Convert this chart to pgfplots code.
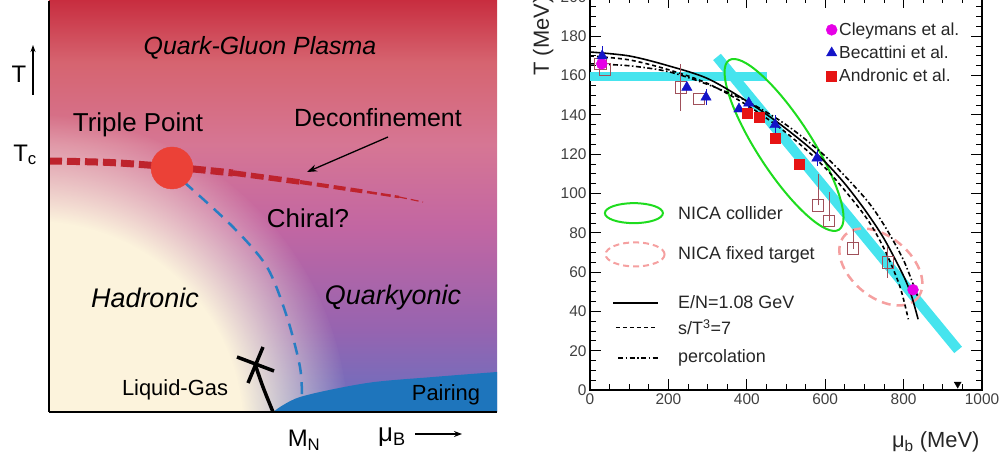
\documentclass[border=0pt]{standalone}
\usepackage{fontspec}
\setmainfont{Liberation Sans}
\usepackage{pgfplots}
\pgfplotsset{compat=1.18}
\usetikzlibrary{fadings,arrows.meta,calc}

\definecolor{bg0}{RGB}{104,112,192}
\definecolor{bg1}{RGB}{150,100,176}
\definecolor{bg2}{RGB}{194,102,162}
\definecolor{bg3}{RGB}{214,118,148}
\definecolor{bg4}{RGB}{214,100,112}
\definecolor{bg5}{RGB}{200,46,64}
\definecolor{cream}{RGB}{252,243,220}
\definecolor{pairblue}{RGB}{30,117,188}
\definecolor{decred}{RGB}{190,35,45}
\definecolor{tpred}{RGB}{235,65,55}
\definecolor{chiralblue}{RGB}{40,125,195}
\definecolor{cyanband}{RGB}{70,228,238}
\definecolor{nicagreen}{RGB}{30,220,30}
\definecolor{nicapink}{RGB}{245,160,160}
\definecolor{opensq}{RGB}{160,80,90}
\definecolor{cleym}{RGB}{230,0,230}
\definecolor{becat}{RGB}{20,20,200}
\definecolor{andro}{RGB}{230,20,20}

\pgfdeclareverticalshading{bgsh}{100bp}{color(0bp)=(bg0); color(25bp)=(bg0); color(35bp)=(bg1); color(47.5bp)=(bg2); color(57.5bp)=(bg3); color(67.5bp)=(bg4); color(75bp)=(bg5); color(100bp)=(bg5)}
\pgfdeclareradialshading{hadsh}{\pgfpointorigin}{color(0bp)=(white); color(16.5bp)=(white); color(25bp)=(black); color(50bp)=(black)}
\pgfdeclarefading{hadfade}{\pgfuseshading{hadsh}}

\begin{document}
\begin{tikzpicture}
% ---------------- left panel: schematic phase diagram ----------------
\begin{axis}[
  at={(49bp,51bp)}, anchor=south west, scale only axis,
  width=448bp, height=411bp,
  xmin=0, xmax=448, ymin=0, ymax=411,
  axis lines=left, axis line style={-, line width=2bp},
  xtick=\empty, ytick=\empty, clip=false, axis on top,
]
\begin{scope}
\clip (axis cs:0,0) rectangle (axis cs:448,411);
\shade[shading=bgsh] (axis cs:0,0) rectangle (axis cs:448,411);
\fill[cream, path fading=hadfade] (axis cs:-15,-18) circle[radius=315bp];
\end{scope}
\addplot[draw=none, fill=pairblue, smooth] coordinates {(224,0) (251,15) (318,29) (384,35) (448,40)} \closedcycle;
% deconfinement line (tapering)
\addplot[decred, line width=7bp, dash pattern=on 13bp off 5bp, smooth] coordinates {(0,251) (61,249.5) (123,245) (184,239)};
\addplot[decred, line width=5.5bp, dash pattern=on 13bp off 5bp, smooth] coordinates {(184,239) (251,230)};
\addplot[decred, line width=4bp, dash pattern=on 12bp off 5bp, smooth] coordinates {(251,230) (318,220)};
\addplot[decred, line width=2.5bp, dash pattern=on 10bp off 4bp, smooth] coordinates {(318,220) (350,215)};
\addplot[decred, line width=1.2bp, dash pattern=on 8bp off 4bp, smooth] coordinates {(350,215) (374,210)};
% chiral line
\addplot[chiralblue, line width=2.5bp, dash pattern=on 12bp off 8bp, smooth] coordinates {(135,230) (184,185) (218,145) (238,95) (251,45) (253,14)};
% triple point
\addplot[tpred, only marks, mark=*, mark size=21bp] coordinates {(123,244)};
% liquid-gas
\addplot[black, line width=3.5bp, smooth] coordinates {(224,0) (214,25) (206,48)};
\addplot[black, line width=3.5bp] coordinates {(188,55) (225,41)};
\addplot[black, line width=3.5bp] coordinates {(214,65) (199,29)};
% texts
\node[font=\fontsize{25}{30}\selectfont\itshape] at (axis cs:211,364) {Quark-Gluon Plasma};
\node[font=\fontsize{26}{30}\selectfont] at (axis cs:89,287) {Triple Point};
\node[font=\fontsize{25}{30}\selectfont] at (axis cs:329,294) {Deconfinement};
\draw[-{Stealth[length=10bp,width=7bp]}, line width=1.3bp] (axis cs:339,275) -- (axis cs:258,240);
\node[font=\fontsize{26}{30}\selectfont] at (axis cs:259,194) {Chiral?};
\node[font=\fontsize{27}{30}\selectfont\itshape] at (axis cs:96,114) {Hadronic};
\node[font=\fontsize{27}{30}\selectfont\itshape] at (axis cs:344,114) {Quarkyonic};
\node[font=\fontsize{22}{26}\selectfont] at (axis cs:126,22) {Liquid-Gas};
\node[font=\fontsize{22}{26}\selectfont] at (axis cs:397,17) {Pairing};
\node[font=\fontsize{24}{28}\selectfont] at (axis cs:-30,338) {T};
\draw[-{Stealth[length=7bp,width=5bp]}, line width=1.3bp] (axis cs:-16,317) -- (axis cs:-16,367);
\node[font=\fontsize{24}{28}\selectfont] at (axis cs:-24,257) {T\textsubscript{c}};
\node[font=\fontsize{24}{28}\selectfont] at (axis cs:255,-28) {M\textsubscript{N}};
\node[font=\fontsize{26}{30}\selectfont] at (axis cs:343,-25) {μ\textsubscript{B}};
\draw[-{Stealth[length=8bp,width=6bp]}, line width=1.3bp] (axis cs:366,-22) -- (axis cs:413,-22);
\end{axis}

% ---------------- right panel: freeze-out data ----------------
\begin{axis}[
  at={(590bp,73bp)}, anchor=south west, scale only axis,
  width=392bp, height=393bp,
  xmin=0, xmax=1000, ymin=0, ymax=200,
  xtick={0,200,...,1000}, ytick={0,20,...,200},
  minor x tick num=3, minor y tick num=3,
  tick align=inside, xtick pos=both, ytick pos=both,
  major tick length=11bp, minor tick length=6bp,
  every tick/.append style={black, line width=0.9bp},
  axis line style={line width=1.3bp},
  /pgf/number format/assume math mode=true,
  /pgf/number format/1000 sep={},
  tick label style={font=\fontsize{15.5}{18}\selectfont, text=black!75},
  clip=false,
  legend style={at={(axis cs:602,188)}, anchor=north west, draw=none, fill=none,
    font=\fontsize{17.5}{20}\selectfont, text=black!85, row sep=5bp, inner sep=0pt},
  legend cell align=left,
]
% bands
\addplot[cyanband, line width=9bp, forget plot] coordinates {(0,159.5) (452,159.5)};
\addplot[cyanband, line width=10bp, forget plot] coordinates {(324,169.5) (939,20.4)};
% NICA ellipses
\draw[nicagreen, line width=2bp, rotate around={-57:(axis cs:495,124.7)}] (axis cs:495,124.7) ellipse[x radius=101bp, y radius=27bp];
\draw[nicapink, line width=2.5bp, dash pattern=on 9bp off 6bp, rotate around={-40:(axis cs:742,62.6)}] (axis cs:742,62.6) ellipse[x radius=48bp, y radius=30bp];
% curves
\addplot[black, line width=1.6bp, smooth, forget plot] coordinates {(0,172) (100,170) (200,165) (300,158.5) (400,147) (480,136) (550,125) (600,116) (650,105) (700,92) (750,77) (800,58) (820,48) (837,36)};
\addplot[black, line width=1.6bp, dash pattern=on 4bp off 3bp, smooth, forget plot] coordinates {(0,170) (100,168) (200,163) (300,156) (400,145) (500,131) (600,113) (700,89) (750,72) (790,53) (812,36)};
\addplot[black, line width=1.6bp, dash pattern=on 5bp off 2.5bp on 1.5bp off 2.5bp, smooth, forget plot] coordinates {(0,166) (100,165) (200,162) (300,155.5) (400,147) (500,135) (600,119) (700,98) (750,84) (800,66) (835,48)};
% open squares
\addplot[opensq, only marks, mark=square, mark size=5.8bp, mark options={line width=1bp}, forget plot,
  error bars/.cd, y dir=both, y explicit, error bar style={opensq, line width=1bp}, error mark=none]
  coordinates {
  (27,166) +- (0,0)
  (38,163) +- (0,0)
  (232,154) +- (0,12)
  (278,148) +- (0,0)
  (582,94) += (0,16) -= (0,0)
  (610,86) += (0,15) -= (0,0)
  (671,72) += (0,10) -= (0,0)
  (760,65) +- (0,8)
  };
% data
\addplot[cleym, only marks, mark=*, mark size=5.5bp] coordinates {(30,166) (824,51)};
\addlegendentry{Cleymans et al.}
\addplot[becat, only marks, mark=triangle*, mark size=6bp,
  error bars/.cd, y dir=both, y explicit, error bar style={becat, line width=0.8bp}, error mark=none]
  coordinates {(31,170) +- (0,5) (247,154) +- (0,0) (296,149) +- (0,4) (380,143) +- (0,0) (405,146) +- (0,3) (472,135) +- (0,5) (579,118) +- (0,4)};
\addlegendentry{Becattini et al.}
\addplot[andro, only marks, mark=square*, mark size=5bp] coordinates {(400,141) (431,139) (472,128) (533,115)};
\addlegendentry{Andronic et al.}
\addplot[black, only marks, mark=triangle*, mark size=4bp, mark options={rotate=180}, forget plot] coordinates {(938,3)};
% lower-left key
\draw[nicagreen, line width=2bp] (axis cs:112,90) ellipse[x radius=29bp, y radius=10bp];
\draw[nicapink, line width=2bp, dash pattern=on 6bp off 4bp] (axis cs:115,69) ellipse[x radius=29.5bp, y radius=12bp];
\node[anchor=west, font=\fontsize{18}{21}\selectfont, text=black!85] at (axis cs:216,90) {NICA collider};
\node[anchor=west, font=\fontsize{18}{21}\selectfont, text=black!85] at (axis cs:216,68.7) {NICA fixed target};
\draw[black, line width=1.2bp] (axis cs:59,44.3) -- (axis cs:173,44.3);
\node[anchor=west, font=\fontsize{18}{21}\selectfont, text=black!85] at (axis cs:216,44.5) {E/N=1.08 GeV};
\draw[black, line width=1.2bp, dash pattern=on 4bp off 3bp] (axis cs:66,32) -- (axis cs:173,32);
\node[anchor=west, font=\fontsize{18}{21}\selectfont, text=black!85] at (axis cs:216,32) {s/T\textsuperscript{3}=7};
\draw[black, line width=1.2bp, dash pattern=on 5bp off 2.5bp on 1.5bp off 2.5bp] (axis cs:72,16.3) -- (axis cs:173,16.3);
\node[anchor=west, font=\fontsize{18}{21}\selectfont, text=black!85] at (axis cs:216,16.3) {percolation};
% axis labels
\node[rotate=90, anchor=south east, font=\fontsize{22}{25}\selectfont, text=black!85] at ($(rel axis cs:0,1)+(-33bp,4bp)$) {T (MeV)};
\node[anchor=base east, font=\fontsize{22}{25}\selectfont, text=black!85] at ($(rel axis cs:1,0)+(1bp,-57bp)$) {μ\textsubscript{b} (MeV)};
\end{axis}
\pgfresetboundingbox
\useasboundingbox (0,0) rectangle (1007bp,463bp);
\end{tikzpicture}
\end{document}
